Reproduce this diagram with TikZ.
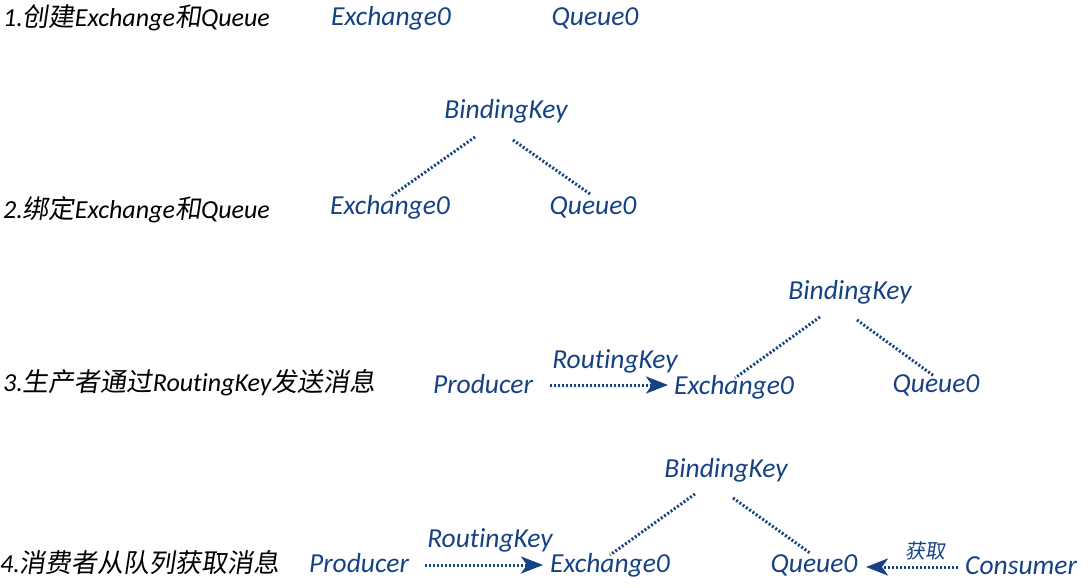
\documentclass[tikz,border=0pt]{standalone}
\usepackage{fontspec}
\setmainfont{Carlito}[Ligatures={NoCommon}]
\newfontfamily\cjk[FakeSlant=0.15]{Noto Sans CJK SC}
\usetikzlibrary{arrows.meta}
\definecolor{ink}{RGB}{22,66,132}
\tikzset{
  lbl/.style={font=\fontsize{27.5}{30}\selectfont\itshape, text=ink, inner sep=0pt},
  stage/.style={font=\fontsize{26}{28}\selectfont\itshape, text=black, inner sep=0pt, anchor=west},
  bind/.style={ink, line width=3pt, dash pattern=on 2pt off 2pt},
  flow/.style={ink, line width=3pt, dash pattern=on 2pt off 2pt,
    -{Stealth[length=22pt,width=17pt,inset=6pt]}}
}
\begin{document}
\begin{tikzpicture}[x=1pt,y=-1pt]
\useasboundingbox (0,0) rectangle (1089,588);
\clip (0,0) rectangle (1089,588);
% row 1
\node[stage] (s1) at (3,18) {1.{\cjk 创建}Exchange{\cjk 和}Queue};
\node[lbl] (e1) at (391,18) {Exchange0};
\node[lbl] (q1) at (595,18) {Queue0};
% row 2
\node[stage] (s2) at (3,210) {2.{\cjk 绑定}Exchange{\cjk 和}Queue};
\node[lbl] (b2) at (506,111) {BindingKey};
\node[lbl] (e2) at (390,207) {Exchange0};
\node[lbl] (q2) at (593,207) {Queue0};
\coordinate (b2l) at (475,137); \coordinate (b2r) at (513,140);
\coordinate (e2t) at (390,197); \coordinate (q2t) at (590,194);
\draw[bind] (b2l) -- (e2t);
\draw[bind] (b2r) -- (q2t);
% row 3
\node[stage] (s3) at (3,383) {3.{\cjk 生产者通过}RoutingKey{\cjk 发送消息}};
\node[lbl] (b3) at (850,292) {BindingKey};
\node[lbl] (p3) at (483,384) {Producer};
\node[lbl] (r3) at (615,361) {RoutingKey};
\node[lbl] (e3) at (734,387) {Exchange0};
\node[lbl] (q3) at (936,385) {Queue0};
\coordinate (b3l) at (820,317); \coordinate (b3r) at (857,320);
\coordinate (e3t) at (735,378); \coordinate (q3t) at (934,376);
\draw[bind] (b3l) -- (e3t);
\draw[bind] (b3r) -- (q3t);
\coordinate (a3s) at (550,385); \coordinate (a3e) at (668,385);
\draw[flow] (a3s) -- (a3e);
% row 4
\node[stage] (s4) at (0,563) {4.{\cjk 消费者从队列获取消息}};
\node[lbl] (b4) at (726,470) {BindingKey};
\node[lbl] (p4) at (359,563) {Producer};
\node[lbl] (r4) at (490,540) {RoutingKey};
\node[lbl] (e4) at (610,565) {Exchange0};
\node[lbl] (q4) at (814,565) {Queue0};
\node[lbl, anchor=west] (c4) at (965,566) {Consumer};
\node[font=\fontsize{20}{22}\selectfont\cjk, text=ink, inner sep=0pt] (g4) at (925,551) {获取};
\coordinate (b4l) at (695,494); \coordinate (b4r) at (733,498);
\coordinate (e4t) at (610,555); \coordinate (q4t) at (810,553);
\draw[bind] (b4l) -- (e4t);
\draw[bind] (b4r) -- (q4t);
\coordinate (a4s) at (425,565); \coordinate (a4e) at (543,565);
\draw[flow] (a4s) -- (a4e);
\coordinate (c4s) at (958,567); \coordinate (c4e) at (866,567);
\draw[flow] (c4s) -- (c4e);
\end{tikzpicture}
\end{document}
